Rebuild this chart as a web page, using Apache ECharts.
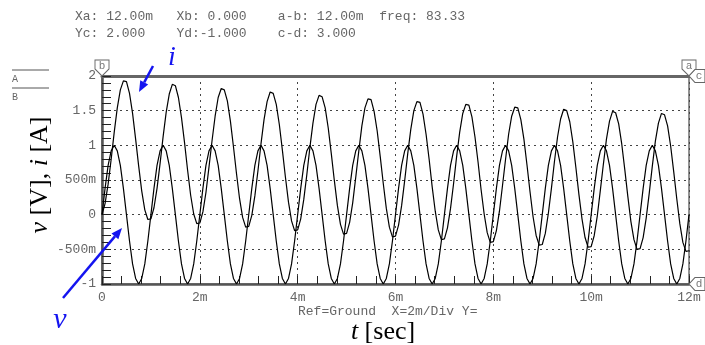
<!DOCTYPE html>
<html>
<head>
<meta charset="utf-8">
<script src="https://cdn.jsdelivr.net/npm/echarts@6/dist/echarts.min.js"></script>
<style>
  html, body { margin: 0; padding: 0; background: #fff; }
  #chart { width: 705px; height: 345px; }
</style>
</head>
<body>
<div id="chart"></div>
<script>
// simulator output, one sample every T_STEP ms starting at t = 0
const T_STEP = 0.0625;

// source voltage v [V]
const vSamples = [
  0,0.38,0.71,0.92,1,0.92,0.71,0.38,0,-0.38,-0.71,-0.92,-1,-0.92,-0.71,-0.38,
  0,0.38,0.71,0.92,1,0.92,0.71,0.38,0,-0.38,-0.71,-0.92,-1,-0.92,-0.71,-0.38,
  0,0.38,0.71,0.92,1,0.92,0.71,0.38,0,-0.38,-0.71,-0.92,-1,-0.92,-0.71,-0.38,
  0,0.38,0.71,0.92,1,0.92,0.71,0.38,0,-0.38,-0.71,-0.92,-1,-0.92,-0.71,-0.38,
  0,0.38,0.71,0.92,1,0.92,0.71,0.38,0,-0.38,-0.71,-0.92,-1,-0.92,-0.71,-0.38,
  0,0.38,0.71,0.92,1,0.92,0.71,0.38,0,-0.38,-0.71,-0.92,-1,-0.92,-0.71,-0.38,
  0,0.38,0.71,0.92,1,0.92,0.71,0.38,0,-0.38,-0.71,-0.92,-1,-0.92,-0.71,-0.38,
  0,0.38,0.71,0.92,1,0.92,0.71,0.38,0,-0.38,-0.71,-0.92,-1,-0.92,-0.71,-0.38,
  0,0.38,0.71,0.92,1,0.92,0.71,0.38,0,-0.38,-0.71,-0.92,-1,-0.92,-0.71,-0.38,
  0,0.38,0.71,0.92,1,0.92,0.71,0.38,0,-0.38,-0.71,-0.92,-1,-0.92,-0.71,-0.38,
  0,0.38,0.71,0.92,1,0.92,0.71,0.38,0,-0.38,-0.71,-0.92,-1,-0.92,-0.71,-0.38,
  0,0.38,0.71,0.92,1,0.92,0.71,0.38,0,-0.38,-0.71,-0.92,-1,-0.92,-0.71,-0.38,
  0
];

// inductor current i [A] (offset decays over the run)
const iSamples = [
  0.00,0.16,0.44,0.80,1.19,1.54,1.80,1.93,1.92,1.75,1.46,1.09,0.70,0.34,0.07,-0.07,
  -0.06,0.10,0.38,0.74,1.13,1.48,1.74,1.88,1.86,1.69,1.40,1.04,0.64,0.28,0.01,-0.13,
  -0.12,0.04,0.32,0.69,1.07,1.42,1.69,1.82,1.80,1.64,1.35,0.98,0.59,0.23,-0.04,-0.18,
  -0.17,-0.01,0.27,0.63,1.02,1.37,1.63,1.77,1.75,1.59,1.30,0.93,0.54,0.18,-0.09,-0.23,
  -0.22,-0.06,0.22,0.58,0.97,1.32,1.59,1.72,1.70,1.54,1.25,0.88,0.49,0.13,-0.14,-0.28,
  -0.27,-0.11,0.17,0.54,0.92,1.28,1.54,1.67,1.66,1.49,1.21,0.84,0.45,0.09,-0.18,-0.32,
  -0.31,-0.15,0.13,0.49,0.88,1.23,1.50,1.63,1.62,1.45,1.16,0.80,0.40,0.05,-0.22,-0.36,
  -0.35,-0.19,0.09,0.45,0.84,1.19,1.46,1.59,1.58,1.41,1.12,0.76,0.36,0.01,-0.26,-0.40,
  -0.39,-0.23,0.05,0.42,0.80,1.16,1.42,1.55,1.54,1.37,1.09,0.72,0.33,-0.03,-0.30,-0.44,
  -0.43,-0.27,0.02,0.38,0.77,1.12,1.38,1.52,1.50,1.34,1.05,0.68,0.29,-0.06,-0.33,-0.47,
  -0.46,-0.30,-0.02,0.35,0.73,1.09,1.35,1.49,1.47,1.31,1.02,0.65,0.26,-0.10,-0.36,-0.50,
  -0.49,-0.33,-0.05,0.31,0.70,1.06,1.32,1.46,1.44,1.28,0.99,0.62,0.23,-0.13,-0.40,-0.53,
  -0.52
];

// axis ticks
const xTickValues = [0, 2, 4, 6, 8, 10, 12];
const xTickLabels = ['0', '2m', '4m', '6m', '8m', '10m', '12m'];
const yTickValues = [-1, -0.5, 0, 0.5, 1, 1.5, 2];
const yTickLabels = ['-1', '-500m', '0', '500m', '1', '1.5', '2'];

// scope cursors (a, b on time, c, d on level)
const cursorLetters = ['b', 'a', 'c', 'd'];
const cursorTimes  = [0, 12, 12, 12];
const cursorLevels = [2, 2, 2, -1];

const readoutLines = [
  'Xa: 12.00m   Xb: 0.000    a-b: 12.00m  freq: 83.33',
  'Yc: 2.000    Yd:-1.000    c-d: 3.000'
];
const footerText = 'Ref=Ground  X=2m/Div Y=';

const MONO = "'Liberation Mono', 'DejaVu Sans Mono', monospace";
const SERIF = "'Liberation Serif', 'DejaVu Serif', serif";
const BLUE = '#1414f0';
const TEXT_GREY = '#666';

const chart = echarts.init(document.getElementById('chart'));

function toPairs(arr) {
  return arr.map((y, k) => [k * T_STEP, y]);
}

function pickLabel(values, labels) {
  return (val) => {
    const idx = values.findIndex((t) => Math.abs(t - val) < 1e-9);
    return idx >= 0 ? labels[idx] : String(val);
  };
}

// arrow made of a shaft and a filled head
function arrow(x1, y1, x2, y2, color) {
  const dx = x2 - x1, dy = y2 - y1;
  const len = Math.sqrt(dx * dx + dy * dy);
  const ux = dx / len, uy = dy / len;
  const hl = 11, hw = 4.5;
  const bx = x2 - ux * hl, by = y2 - uy * hl;
  return [
    { type: 'line', silent: true, z: 50, shape: { x1: x1, y1: y1, x2: bx, y2: by },
      style: { stroke: color, lineWidth: 2.5 } },
    { type: 'polygon', silent: true, z: 50,
      shape: { points: [[x2, y2], [bx - uy * hw, by + ux * hw], [bx + uy * hw, by - ux * hw]] },
      style: { fill: color } }
  ];
}

const downTab = 'path://M0,0 L14,0 L14,9 L7,16 L0,9 Z';
const leftTab = 'path://M6,0 L16,0 L16,13 L6,13 L0,6.5 Z';

const cursorMarks = cursorLetters.map((letter, k) => {
  const vertical = letter === 'a' || letter === 'b';
  return {
    name: letter,
    coord: [cursorTimes[k], cursorLevels[k]],
    symbol: vertical ? downTab : leftTab,
    symbolSize: vertical ? [14, 16] : [16, 13],
    symbolOffset: vertical ? [0, -8] : [8, 0],
    label: {
      show: true,
      formatter: letter,
      position: 'inside',
      offset: vertical ? [0, -2] : [2, 0],
      fontFamily: MONO,
      fontSize: 11,
      color: '#777'
    }
  };
});

const option = {
  animation: false,
  backgroundColor: '#fff',
  grid: {
    left: 102, right: 16, top: 76, bottom: 61,
    show: true, borderColor: '#222', borderWidth: 1, backgroundColor: 'transparent'
  },
  xAxis: [
    {
      type: 'value', min: 0, max: 12, interval: 2,
      axisLine: { show: true, onZero: false, lineStyle: { color: '#555', width: 2.5 } },
      axisTick: { show: true, inside: true, length: 8, lineStyle: { color: '#222', width: 1 } },
      minorTick: { show: true, splitNumber: 5, length: 8, lineStyle: { color: '#222', width: 1 } },
      splitLine: { show: true, lineStyle: { color: '#444', type: [2, 4], width: 1 } },
      axisLabel: {
        formatter: pickLabel(xTickValues, xTickLabels),
        fontFamily: MONO, fontSize: 13, color: TEXT_GREY, margin: 7
      }
    },
    {
      type: 'value', position: 'top', min: 0, max: 12, interval: 2,
      axisLine: { show: true, onZero: false, lineStyle: { color: '#666', width: 3 } },
      axisTick: { show: false }, axisLabel: { show: false }, splitLine: { show: false }
    }
  ],
  yAxis: {
    type: 'value', min: -1, max: 2, interval: 0.5,
    axisLine: { show: true, onZero: false, lineStyle: { color: '#555', width: 2.5 } },
    axisTick: { show: true, inside: true, length: 9, lineStyle: { color: '#222', width: 1 } },
    minorTick: { show: true, splitNumber: 5, length: 9, lineStyle: { color: '#222', width: 1 } },
    splitLine: { show: true, lineStyle: { color: '#444', type: [2, 4], width: 1 } },
    axisLabel: {
      formatter: pickLabel(yTickValues, yTickLabels),
      fontFamily: MONO, fontSize: 13, color: TEXT_GREY, margin: 6
    }
  },
  series: [
    {
      name: 'v', type: 'line', data: toPairs(vSamples),
      showSymbol: false, smooth: false,
      lineStyle: { color: '#000', width: 1.2 },
      markPoint: {
        silent: true,
        itemStyle: { color: '#fff', borderColor: '#666', borderWidth: 1 },
        data: cursorMarks
      }
    },
    {
      name: 'i', type: 'line', data: toPairs(iSamples),
      showSymbol: false, smooth: false,
      lineStyle: { color: '#000', width: 1.2 }
    }
  ],
  graphic: [
    // cursor readout
    { type: 'text', left: 75, top: 8, silent: true,
      style: { text: readoutLines.join('\n'), fontFamily: MONO, fontSize: 13, lineHeight: 17, fill: TEXT_GREY } },
    { type: 'text', left: 298, top: 305, silent: true,
      style: { text: footerText, fontFamily: MONO, fontSize: 13, fill: TEXT_GREY } },
    // channel legend A / B
    { type: 'line', silent: true, shape: { x1: 12, y1: 70, x2: 49, y2: 70 }, style: { stroke: '#555', lineWidth: 1 } },
    { type: 'line', silent: true, shape: { x1: 12, y1: 88, x2: 49, y2: 88 }, style: { stroke: '#555', lineWidth: 1 } },
    { type: 'text', left: 12, top: 74, silent: true, style: { text: 'A', fontFamily: MONO, fontSize: 10, fill: '#666' } },
    { type: 'text', left: 12, top: 92, silent: true, style: { text: 'B', fontFamily: MONO, fontSize: 10, fill: '#666' } },
    // axis titles
    { type: 'text', x: 40, y: 175, rotation: Math.PI / 2, silent: true,
      style: {
        text: '{it|v}{n| [V], }{it|i}{n| [A]}',
        align: 'center', verticalAlign: 'middle',
        rich: {
          it: { fontFamily: SERIF, fontSize: 26, fontStyle: 'italic', fill: '#000' },
          n: { fontFamily: SERIF, fontSize: 26, fill: '#000' }
        }
      } },
    { type: 'text', x: 383, y: 332, silent: true,
      style: {
        text: '{it|t}{n| [sec]}',
        align: 'center', verticalAlign: 'middle',
        rich: {
          it: { fontFamily: SERIF, fontSize: 26, fontStyle: 'italic', fill: '#000' },
          n: { fontFamily: SERIF, fontSize: 26, fill: '#000' }
        }
      } },
    // annotations
    { type: 'text', x: 172, y: 58, silent: true,
      style: { text: 'i', fontFamily: SERIF, fontStyle: 'italic', fontSize: 28, fill: BLUE, align: 'center', verticalAlign: 'middle' } },
    { type: 'text', x: 60, y: 320, silent: true,
      style: { text: 'v', fontFamily: SERIF, fontStyle: 'italic', fontSize: 30, fill: BLUE, align: 'center', verticalAlign: 'middle' } }
  ].concat(arrow(153, 66, 139, 92, BLUE), arrow(63, 298, 122, 228, BLUE))
};

chart.setOption(option);
</script>
</body>
</html>
